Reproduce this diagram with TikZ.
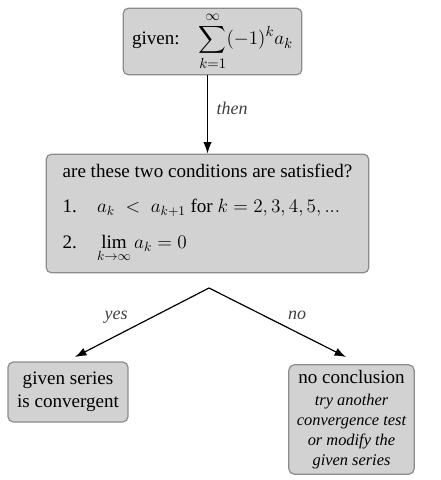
\documentclass[tikz,border=0pt]{standalone}
\usepackage{amsmath}
\usepackage{fontspec}
\setmainfont{Liberation Serif}
\usetikzlibrary{arrows.meta,positioning}
\definecolor{boxgray}{HTML}{D2D2D2}
\definecolor{boxedge}{HTML}{8C8C8C}
\definecolor{labelgray}{HTML}{404040}
\newcommand{\hintfont}{\fontsize{12.3}{13.9}\selectfont\itshape}
\tikzset{
  stepbox/.style={draw=boxedge,fill=boxgray,rounded corners=4pt,line width=0.9pt,
    inner sep=3pt,font=\fontsize{14.3}{17}\selectfont},
  flowarrow/.style={-{Latex[length=3mm,width=2.2mm]},line width=0.9pt},
  edgelabel/.style={font=\fontsize{13.5}{15}\selectfont\itshape,text=labelgray}
}
\begin{document}
\begin{tikzpicture}[x=0.75pt,y=-0.75pt]
  \useasboundingbox (0,0) rectangle (441,480);
  \node[stepbox,inner sep=1pt,minimum width=134pt,minimum height=50pt] (given) at (212.5,41.5)
    {given:\quad {\fontsize{15.5}{18}\selectfont$\displaystyle\sum_{k=1}^{\infty}(-1)^k a_k$}};
  \node[stepbox,minimum width=242pt,minimum height=89pt,align=left] (cond) at (207.5,213.5)
    {are these two conditions are satisfied?\\[9pt]
     1.\hspace{1.05em}$a_k \;<\; a_{k+1}$ for $k=2,3,4,5,...$\\[10pt]
     2.\hspace{1.05em}$\displaystyle\lim_{k\to\infty} a_k = 0$};
  \node[stepbox,minimum width=90pt,minimum height=45pt,align=center] (conv) at (68,392)
    {given series\\is convergent};
  \node[stepbox,minimum width=94pt,minimum height=82pt,align=center] (nocon) at (351.5,419.5)
    {no conclusion\\[-1pt]
     \hintfont try another\\[-2pt]\hintfont convergence test\\[-2pt]
     \hintfont or modify the\\[-2pt]\hintfont given series};
  \coordinate (split) at (209,288);
  \coordinate (yes-end) at (75,357);
  \coordinate (no-end) at (346,357);
  \draw[flowarrow] (given.south -| cond.north) -- (cond.north)
    node[edgelabel,pos=0.42,right=3pt] {then};
  \draw[flowarrow] (split) -- (yes-end)
    node[edgelabel,pos=0.55,anchor=south east,xshift=-2pt,yshift=-2pt] {yes};
  \draw[flowarrow] (split) -- (no-end)
    node[edgelabel,pos=0.55,anchor=south west,xshift=-1pt,yshift=1pt] {no};
\end{tikzpicture}
\end{document}
